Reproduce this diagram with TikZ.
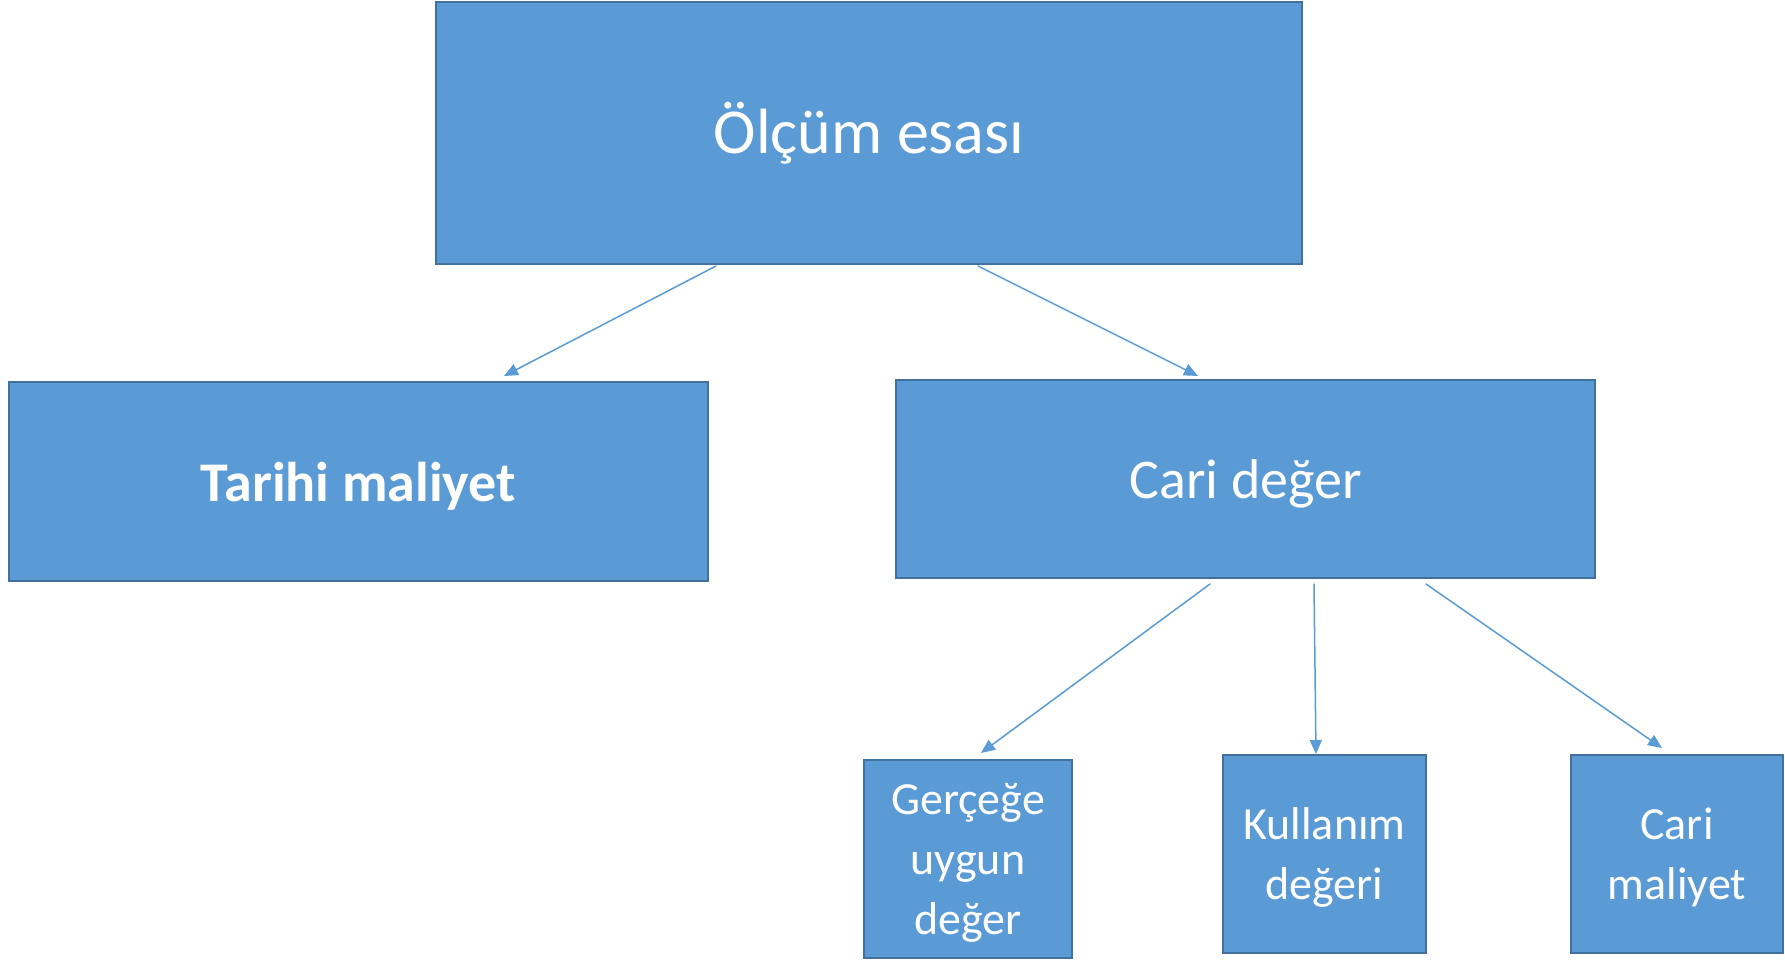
\documentclass[tikz,border=0pt]{standalone}
\usepackage{fontspec}
\setmainfont{Carlito}
\usetikzlibrary{arrows.meta,calc}
\definecolor{kutudolgu}{HTML}{5B9BD5}
\definecolor{kutucizgi}{HTML}{41719C}

\begin{document}
\begin{tikzpicture}[x=0.5pt,y=-0.5pt,
		kutu/.style={draw=kutucizgi,line width=1pt,fill=kutudolgu,text=white,align=center,inner sep=0pt},
		kucuk/.style={kutu,text depth=0pt,font=\fontsize{23}{30}\selectfont},
		ok/.style={draw=kutudolgu,line width=0.75pt,line cap=round,-{Triangle[length=7pt,width=6pt]}}]
			\useasboundingbox (0,0) rectangle (1785,960);
			% kutular
			\node[kutu,minimum width=433pt,minimum height=131pt,font=\fontsize{32}{38}\selectfont] (olcum) at (869,133) {Ölçüm esası};
			\node[kutu,text depth=0pt,minimum width=349.5pt,minimum height=99.5pt,font=\fontsize{28}{34}\selectfont\bfseries] (tarihi) at (358.5,481.5) {Tarihi maliyet};
			\node[kutu,text depth=0pt,minimum width=349.5pt,minimum height=99pt,font=\fontsize{28}{34}\selectfont] (cari) at (1245.5,479) {Cari değer};
			\node[kucuk,minimum width=104pt,minimum height=99pt] (gercege) at (968,859) {Gerçeğe\\uygun\\değer};
			\node[kucuk,minimum width=101.5pt,minimum height=99pt] (kullanim) at (1324.5,854) {Kullanım\\değeri};
			\node[kucuk,minimum width=106pt,minimum height=99pt] (carimal) at (1677,854) {Cari\\maliyet};
			% oklar
			\draw[ok] ($(olcum.south)+(-153,1)$) -- ($(tarihi.north)+(145.5,-5)$);
			\draw[ok] ($(olcum.south)+(109,1)$) -- ($(cari.north)+(-47.5,-3)$);
			\draw[ok] ($(cari.south)+(-35.5,5)$) -- ($(gercege.north)+(13,-6)$);
			\draw[ok] ($(cari.south)+(68.5,5)$) -- ($(kullanim.north)+(-8.5,0)$);
			\draw[ok] ($(cari.south)+(180.5,5)$) -- ($(carimal.north)+(-15,-6)$);
		\end{tikzpicture}
\end{document}
